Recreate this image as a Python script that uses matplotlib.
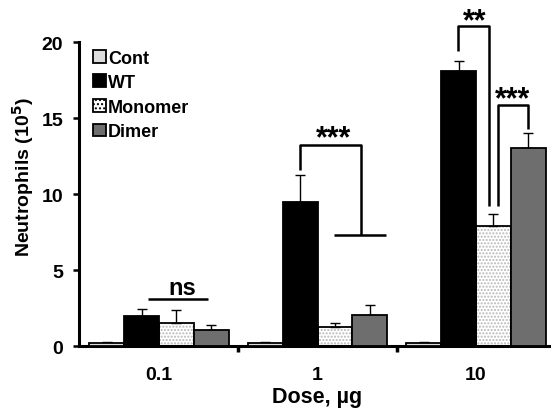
import numpy as np
import matplotlib.pyplot as plt

plt.rcParams['font.family'] = ['Liberation Sans', 'DejaVu Sans']
plt.rcParams['font.weight'] = 'bold'

# data
doses = ['0.1', '1', '10']
groups = ['Cont', 'WT', 'Monomer', 'Dimer']
cont = [0.25, 0.25, 0.25]
cont_err = [0.05, 0.05, 0.05]
wt = [2.0, 9.5, 18.1]
wt_err = [0.45, 1.8, 0.68]
monomer = [1.56, 1.29, 7.9]
monomer_err = [0.8, 0.25, 0.83]
dimer = [1.07, 2.04, 13.03]
dimer_err = [0.3, 0.68, 1.0]

fig = plt.figure(figsize=(5.51, 4.10), dpi=100)
ax = fig.add_axes([79/551, 62.7/410, 476.3/551, 304/410])

x = np.arange(len(doses))
w = 0.22
lw = 1.3

vals = [cont, wt, monomer, dimer]
errs = [cont_err, wt_err, monomer_err, dimer_err]
colors = ['#dcdcdc', 'black', 'white', '#6e6e6e']

for i, (v, e, c, name) in enumerate(zip(vals, errs, colors, groups)):
    pos = x + (i - 1.5) * w
    if name == 'Monomer':
        ax.bar(pos, v, w, color='white', edgecolor='#b8b8b8', hatch='.....', linewidth=0, zorder=2)
        ax.bar(pos, v, w, color='none', edgecolor='black', linewidth=lw, zorder=3)
        ax.bar([0], [0], color='white', edgecolor='black', hatch='....', linewidth=lw, label=name)
    else:
        ax.bar(pos, v, w, color=c, edgecolor='black', linewidth=lw, zorder=3, label=name)
    ax.errorbar(pos, v, yerr=[np.zeros(len(e)), e], fmt='none', ecolor='black',
                elinewidth=1, capsize=3.5, capthick=1, zorder=2)

ax.set_xlim(-0.505, 2.5)
ax.set_ylim(0, 20)
ax.set_yticks([0, 5, 10, 15, 20])
ax.set_xticks(x)
ax.set_xticklabels(doses)
ax.set_xticks([0.5, 1.5], minor=True)
ax.tick_params(axis='x', which='major', length=0, pad=14, labelsize=14)
ax.tick_params(axis='x', which='minor', length=4, width=2.5, direction='out')
ax.tick_params(axis='y', length=4.5, width=1.8, pad=7, labelsize=14)

for s in ['top', 'right']:
    ax.spines[s].set_visible(False)
for s in ['left', 'bottom']:
    ax.spines[s].set_linewidth(2.2)

ax.set_ylabel('Neutrophils (10$^\\mathbf{5}$)', fontsize=14, fontweight='bold')
ax.yaxis.set_label_coords(-0.09, 0.56)
ax.set_xlabel('Dose, µg', fontsize=15.5, fontweight='bold', labelpad=2)

# significance brackets
blw = 1.8
def line(xs, ys):
    ax.plot(xs, ys, color='black', lw=blw, clip_on=False, solid_capstyle='butt', zorder=4)

line([-0.07, 0.31], [3.1, 3.1])
ax.text(0.145, 3.44, 'ns', ha='center', va='baseline', fontsize=17, fontweight='bold')

line([0.89, 0.89, 1.273, 1.273], [11.6, 13.26, 13.26, 7.34])
line([1.104, 1.432], [7.34, 7.34])
ax.text(1.098, 13.15, '***', ha='center', va='baseline', fontsize=22, fontweight='bold')

line([1.885, 1.885, 2.08, 2.08], [19.45, 21.05, 21.05, 9.2])
ax.text(1.99, 20.88, '**', ha='center', va='baseline', fontsize=22, fontweight='bold', clip_on=False)

line([2.139, 2.139, 2.326, 2.326], [9.2, 15.87, 15.87, 14.3])
ax.text(2.233, 15.74, '***', ha='center', va='baseline', fontsize=22, fontweight='bold')

leg = ax.legend(loc='upper left', bbox_to_anchor=(0.015, 1.0), frameon=False,
                fontsize=13, handlelength=0.7, handleheight=0.7, handletextpad=0.1,
                labelspacing=0.42, borderaxespad=0)
for t in leg.get_texts():
    t.set_fontweight('bold')

fig.savefig('out.png', dpi=100)
